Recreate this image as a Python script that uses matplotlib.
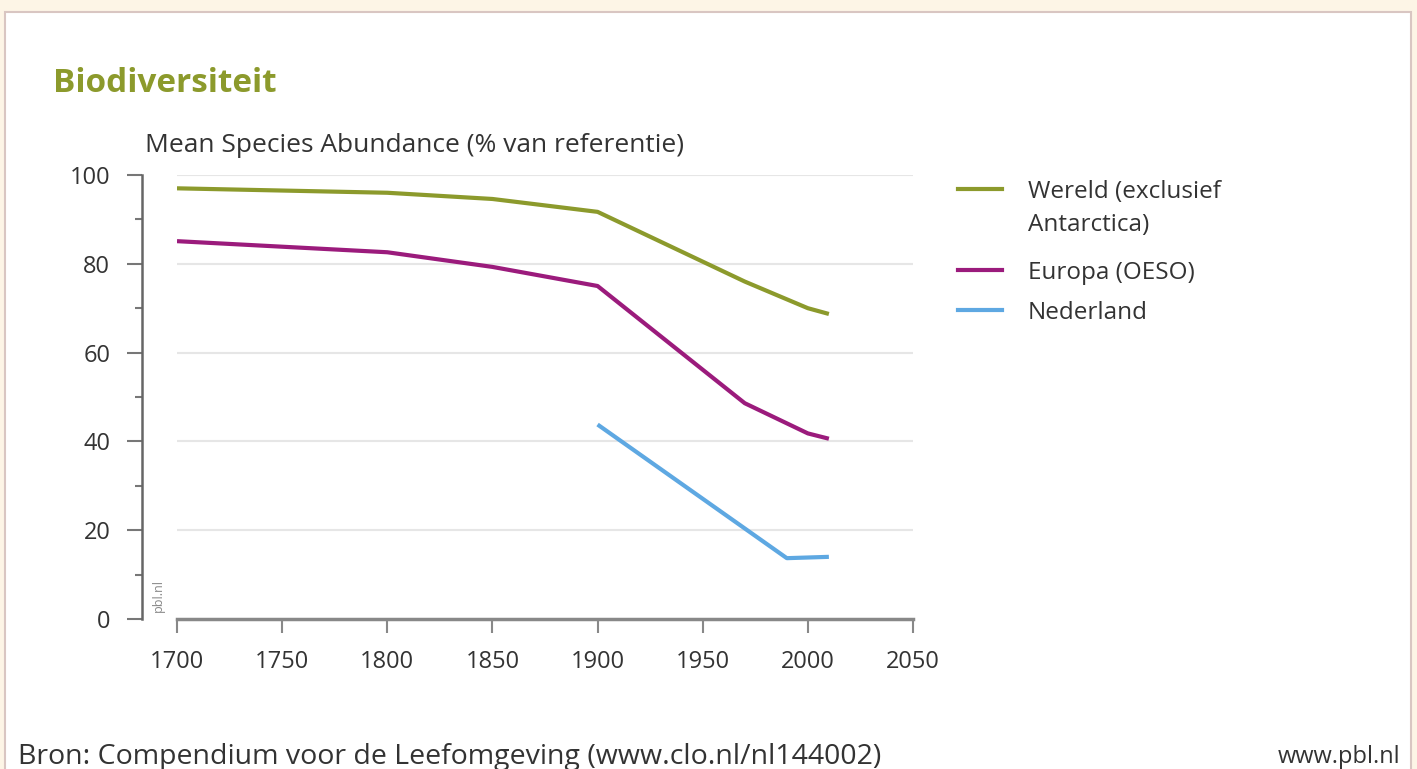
import matplotlib.pyplot as plt
from matplotlib.patches import Rectangle
from matplotlib.lines import Line2D
from matplotlib.ticker import MultipleLocator

# data
jaren_wereld = [1700, 1800, 1850, 1900, 1970, 2000, 2010]
wereld = [97, 96, 94.6, 91.7, 76, 70, 68.7]

jaren_europa = [1700, 1800, 1850, 1900, 1970, 2000, 2010]
europa = [85.1, 82.6, 79.3, 75, 48.6, 41.8, 40.6]

jaren_nl = [1900, 1990, 2010]
nederland = [43.8, 13.7, 14.0]

labels = ['Wereld (exclusief\nAntarctica)', 'Europa (OESO)', 'Nederland']
kleuren = ['#8c9a2c', '#9b1b7c', '#5ea8e2']

plt.rcParams['font.family'] = ['Open Sans', 'DejaVu Sans']

fig = plt.figure(figsize=(14.17, 7.69), dpi=100)
fig.patch.set_facecolor('#fdf5e6')

# witte kader
fig.patches.append(Rectangle((5/1417, -0.05), 1406/1417, 1.05 - 12/769,
                             transform=fig.transFigure, facecolor='white',
                             edgecolor='#d9c6c2', linewidth=1.5, zorder=-10))

ax = fig.add_axes([177/1417, 150/769, 736/1417, 444/769])
ax.set_facecolor('none')
ax.set_zorder(5)

ax.plot(jaren_wereld, wereld, color=kleuren[0], lw=3, solid_capstyle='butt')
ax.plot(jaren_europa, europa, color=kleuren[1], lw=3, solid_capstyle='butt')
ax.plot(jaren_nl, nederland, color=kleuren[2], lw=3, solid_capstyle='butt')

ax.set_xlim(1700, 2050)
ax.set_ylim(0, 100)
ax.set_xticks(range(1700, 2051, 50))
ax.set_yticks(range(0, 101, 20))
ax.yaxis.set_minor_locator(MultipleLocator(10))

for y in range(20, 101, 20):
    ax.axhline(y, color='#e6e6e6', lw=1.5, zorder=0)

for s in ['top', 'right']:
    ax.spines[s].set_visible(False)
ax.spines['left'].set_position(('outward', 25))
ax.spines['left'].set_color('#666666')
ax.spines['left'].set_linewidth(1.8)
ax.spines['bottom'].set_color('#888888')
ax.spines['bottom'].set_linewidth(2.5)

ax.tick_params(axis='y', which='major', length=11, width=1.5, color='#777777',
               labelsize=17, labelcolor='#333333', pad=12)
ax.tick_params(axis='y', which='minor', length=5, width=1.5, color='#777777')
ax.tick_params(axis='x', which='major', length=10, width=1.5, color='#888888',
               labelsize=17, labelcolor='#333333', pad=12)

# legenda handmatig: lijntje naast de eerste regel van elk label
leg_y = [189, 270, 310]
for lab, kl, yy in zip(labels, kleuren, leg_y):
    yf = 1 - yy/769
    fig.add_artist(Line2D([958/1417, 1002/1417], [yf, yf], color=kl, lw=3,
                          transform=fig.transFigure))
    fig.text(1028/1417, 1 - (yy - 9)/769, lab, color='#333333', fontsize=17.5,
             va='top', ha='left', linespacing=1.5)

fig.text(53/1417, 1 - 84/769, 'Biodiversiteit', color='#8c9a2c', fontsize=24,
         fontweight='bold', va='center', ha='left')
fig.text(145/1417, 1 - 146/769, 'Mean Species Abundance (% van referentie)',
         color='#333333', fontsize=19, va='center', ha='left')
fig.text(158/1417, 1 - 595/769, 'pbl.nl', color='#888888', fontsize=9,
         rotation=90, va='center', ha='center')

fig.text(18/1417, 1 - 757/769, 'Bron: Compendium voor de Leefomgeving (www.clo.nl/nl144002)',
         color='#333333', fontsize=20.5, va='center', ha='left')
fig.text(1400/1417, 1 - 757/769, 'www.pbl.nl', color='#333333', fontsize=17,
         va='center', ha='right')

fig.savefig('out.png', dpi=100, facecolor=fig.get_facecolor())
